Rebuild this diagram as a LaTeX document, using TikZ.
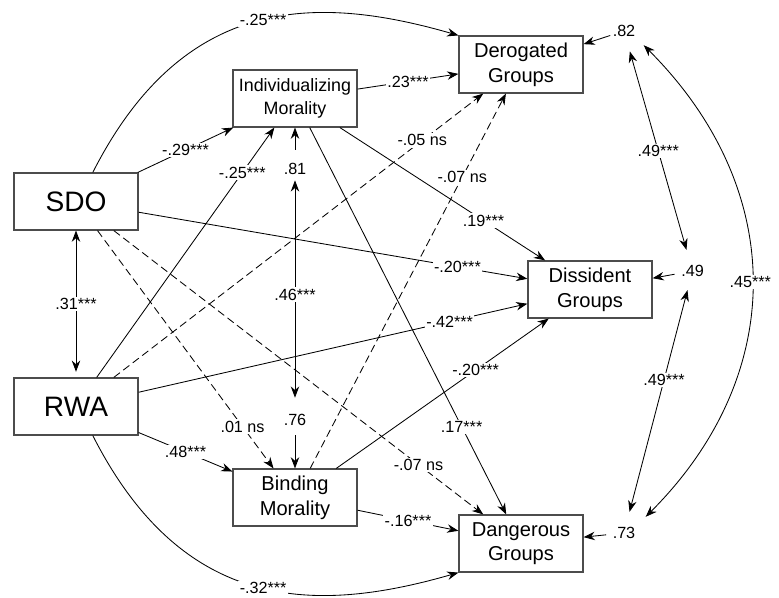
\documentclass[tikz,border=0pt]{standalone}
\usepackage{fontspec}
\setmainfont{Liberation Sans}
\usetikzlibrary{arrows.meta}

\tikzset{
	var/.style={draw=black!70, line width=0.8pt, minimum width=3.1cm, minimum height=1.425cm, inner sep=0pt, align=center, font=\fontsize{14.3}{17.5}\selectfont},
	exo/.style={var, font=\fontsize{20}{24}\selectfont},
	coef/.style={fill=white, inner sep=1pt, font=\fontsize{11.5}{13}\selectfont},
	resid/.style={inner sep=1.5pt, font=\fontsize{11.5}{13}\selectfont},
	ns/.style={dash pattern=on 5.5pt off 3pt}
}

\begin{document}
\begin{tikzpicture}
	[x=0.025cm, y=-0.025cm, line width=0.6pt, >={Stealth[length=8pt,width=6pt]}]
	\useasboundingbox (0,0) rectangle (779,598);
	\node[exo] (SDO) at (76,201.5) {SDO};
	\node[exo] (RWA) at (76,406.5) {RWA};
	\node[var, font=\fontsize{12.7}{16.3}\selectfont] (Ind) at (295,98.5) {Individualizing\\Morality};
	\node[var] (Bind) at (295,497.5) {Binding\\Morality};
	\node[var] (Der) at (521,64.5) {Derogated\\Groups};
	\node[var] (Dis) at (590,289.5) {Dissident\\Groups};
	\node[var] (Dan) at (521,543.5) {Dangerous\\Groups};
	% residuals
	\node[resid] (r81) at (295,169) {.81};
	\node[resid] (r76) at (295,420) {.76};
	\node[resid] (r82) at (624,31) {.82};
	\node[resid] (r49) at (692.5,271) {.49};
	\node[resid] (r73) at (624,533) {.73};

	\draw[->] (SDO) -- node[coef] {-.29***} (Ind);
	\draw[->] (RWA) -- node[coef, pos=.82] {-.25***} (Ind);
	\draw[->] (SDO.60) .. controls (183,-5) and (315,-6) .. node[coef, pos=.52] {-.25***} (Der.north west);
	\draw[->] (Ind) -- node[coef] {.23***} (Der);
	\draw[->, ns] (RWA) -- node[coef, pos=.835] {-.05 ns} (Der);
	\draw[->, ns] (Bind) -- node[coef, pos=.777] {-.07 ns} (Der);
	\draw[->] (Ind) -- node[coef, pos=.7] {.19***} (Dis);
	\draw[->] (SDO) -- node[coef, pos=.82] {-.20***} (Dis);
	\draw[->] (RWA) -- node[coef, pos=.8] {-.42***} (Dis);
	\draw[->] (Bind) -- node[coef, pos=.656] {-.20***} (Dis);
	\draw[->] (Ind) -- node[coef, pos=.773] {.17***} (Dan);
	\draw[->, ns] (SDO) -- node[coef, pos=.825] {-.07 ns} (Dan);
	\draw[->] (Bind) -- node[coef] {-.16***} (Dan);
	\draw[->] (RWA.-60) .. controls (183,613) and (315,614) .. node[coef, pos=.52] {-.32***} (Dan.south west);
	\draw[->, ns] (SDO) -- node[coef, pos=.824] {.01 ns} (Bind);
	\draw[->] (RWA) -- node[coef] {.48***} (Bind);
	\draw[<->, shorten >=4pt] (SDO) -- node[coef] {.31***} (RWA);

	\draw[->, shorten <=7.8pt] (r81) -- (Ind);
	\draw[->, shorten <=5pt] (r76) -- (Bind);
	\draw[<->, shorten <=2.2pt, shorten >=10pt] (r81) -- node[coef] {.46***} (r76);
	\draw[->] (r82) -- (Der);
	\draw[->, shorten <=3pt] (r49) -- (Dis);
	\draw[->, shorten <=3pt] (r73) -- (Dan);
	\draw[<->, shorten <=9pt, shorten >=9.5pt] (r82) -- node[coef] {.49***} (r49);
	\draw[<->, shorten <=8pt, shorten >=9.5pt] (r49) -- node[coef, pos=.41] {.49***} (r73);
	\draw[<->, shorten <=6pt, shorten >=8pt] (r82.south east) .. controls +(150,150) and +(150,-150) .. node[coef] {.45***} (r73.north east);
\end{tikzpicture}
\end{document}
